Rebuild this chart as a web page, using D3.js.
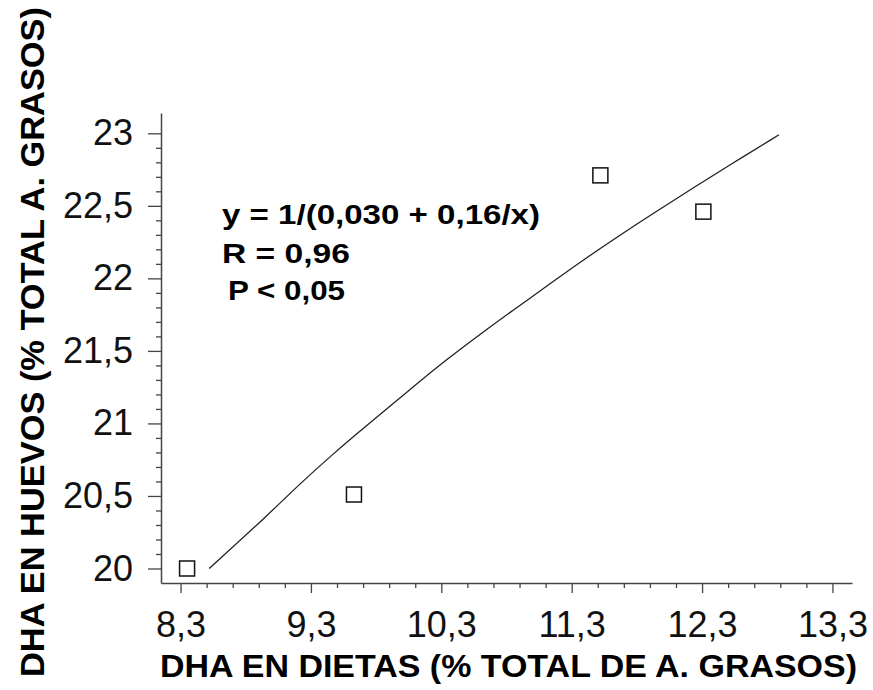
<!DOCTYPE html>
<html>
<head>
<meta charset="utf-8">
<script src="https://cdn.jsdelivr.net/npm/d3@7"></script>
<style>
  html, body { margin: 0; padding: 0; background: #fff; }
  svg { display: block; }
  text { font-family: "Liberation Sans", Arial, Helvetica, sans-serif; }
</style>
</head>
<body>
<svg id="chart" width="873" height="690"></svg>
<script>
// Observed data points (DHA in diets vs DHA in eggs)
const pointX = [8.35, 9.63, 11.52, 12.31];
const pointY = [20.0, 20.51, 22.71, 22.46];

// Fitted curve
const curveX = [8.52, 8.96, 9.21, 9.47, 9.72, 9.95, 10.08, 10.34, 10.59, 10.85, 11.10, 11.36, 11.74, 12.00, 12.26, 12.51, 12.89];
const curveY = [20.00, 20.36, 20.58, 20.79, 20.98, 21.15, 21.25, 21.44, 21.61, 21.78, 21.94, 22.11, 22.34, 22.49, 22.64, 22.78, 22.99];

// Ticks
const xMajorTicks = [8.3, 9.3, 10.3, 11.3, 12.3, 13.3];
const xMinorTicks = [8.5, 8.7, 8.9, 9.1, 9.5, 9.7, 9.9, 10.1, 10.5, 10.7, 10.9, 11.1, 11.5, 11.7, 11.9, 12.1, 12.5, 12.7, 12.9, 13.1];
const yMajorTicks = [20, 20.5, 21, 21.5, 22, 22.5, 23];
const yMinorTicks = [20.1, 20.2, 20.3, 20.4, 20.6, 20.7, 20.8, 20.9, 21.1, 21.2, 21.3, 21.4, 21.6, 21.7, 21.8, 21.9, 22.1, 22.2, 22.3, 22.4, 22.6, 22.7, 22.8, 22.9];

// Texts
const xTitle = "DHA EN DIETAS (% TOTAL DE A. GRASOS)";
const yTitle = "DHA EN HUEVOS (% TOTAL A. GRASOS)";
const annotations = ["y = 1/(0,030 + 0,16/x)", "R = 0,96", "P < 0,05"];

const svg = d3.select("#chart");
const axisColor = "#444";

const x = d3.scaleLinear().domain([8.15, 13.45]).range([161, 852]);
const y = d3.scaleLinear().domain([19.9, 23.14]).range([583, 113]);

const fmt = d => String(d).replace(".", ",");

// X axis
const xAxisG = svg.append("g").attr("transform", `translate(0,${y.range()[0]})`);
xAxisG.call(d3.axisBottom(x).tickValues(xMajorTicks).tickSize(10).tickSizeOuter(0).tickPadding(18).tickFormat(fmt));
const xMinorG = svg.append("g").attr("transform", `translate(0,${y.range()[0]})`);
xMinorG.call(d3.axisBottom(x).tickValues(xMinorTicks).tickSize(5).tickSizeOuter(0).tickFormat(""));
xMinorG.select(".domain").remove();

// Y axis
const yAxisG = svg.append("g").attr("transform", `translate(${x.range()[0]},0)`);
yAxisG.call(d3.axisLeft(y).tickValues(yMajorTicks).tickSize(13).tickSizeOuter(0).tickPadding(15).tickFormat(fmt));
const yMinorG = svg.append("g").attr("transform", `translate(${x.range()[0]},0)`);
yMinorG.call(d3.axisLeft(y).tickValues(yMinorTicks).tickSize(5).tickSizeOuter(0).tickFormat(""));
yMinorG.select(".domain").remove();

svg.selectAll(".domain").attr("stroke", axisColor).attr("stroke-width", 1.5);
svg.selectAll(".tick line").attr("stroke", axisColor).attr("stroke-width", 1.3);
svg.selectAll(".tick text").attr("fill", "#111").style("font-size", "36px")
   .style("font-family", '"Liberation Sans", Arial, sans-serif');

// Curve
const curveData = curveX.map((v, i) => [v, curveY[i]]);
svg.append("path")
  .datum(curveData)
  .attr("fill", "none")
  .attr("stroke", "#222")
  .attr("stroke-width", 1.3)
  .attr("d", d3.line().x(d => x(d[0])).y(d => y(d[1])).curve(d3.curveBasis));

// Points
const size = 15;
svg.selectAll("rect.pt")
  .data(pointX.map((v, i) => [v, pointY[i]]))
  .join("rect")
  .attr("class", "pt")
  .attr("x", d => x(d[0]) - size / 2)
  .attr("y", d => y(d[1]) - size / 2)
  .attr("width", size)
  .attr("height", size)
  .attr("fill", "#fff")
  .attr("stroke", "#111")
  .attr("stroke-width", 1.5);

// Annotations
const annX = [222, 222, 228];
const annY = [224, 263, 300];
const annW = [318, 128, 117];
annotations.forEach((t, i) => {
  svg.append("text")
    .attr("x", annX[i])
    .attr("y", annY[i])
    .attr("font-size", 28)
    .attr("font-weight", "bold")
    .attr("fill", "#000")
    .attr("textLength", annW[i])
    .attr("lengthAdjust", "spacingAndGlyphs")
    .text(t);
});

// Axis titles
svg.append("text")
  .attr("x", 160)
  .attr("y", 677)
  .attr("font-size", 32)
  .attr("font-weight", "bold")
  .attr("fill", "#000")
  .attr("textLength", 697)
  .attr("lengthAdjust", "spacingAndGlyphs")
  .text(xTitle);

svg.append("text")
  .attr("transform", "translate(44,677) rotate(-90)")
  .attr("font-size", 33)
  .attr("font-weight", "bold")
  .attr("fill", "#000")
  .attr("textLength", 670)
  .attr("lengthAdjust", "spacingAndGlyphs")
  .text(yTitle);
</script>
</body>
</html>
